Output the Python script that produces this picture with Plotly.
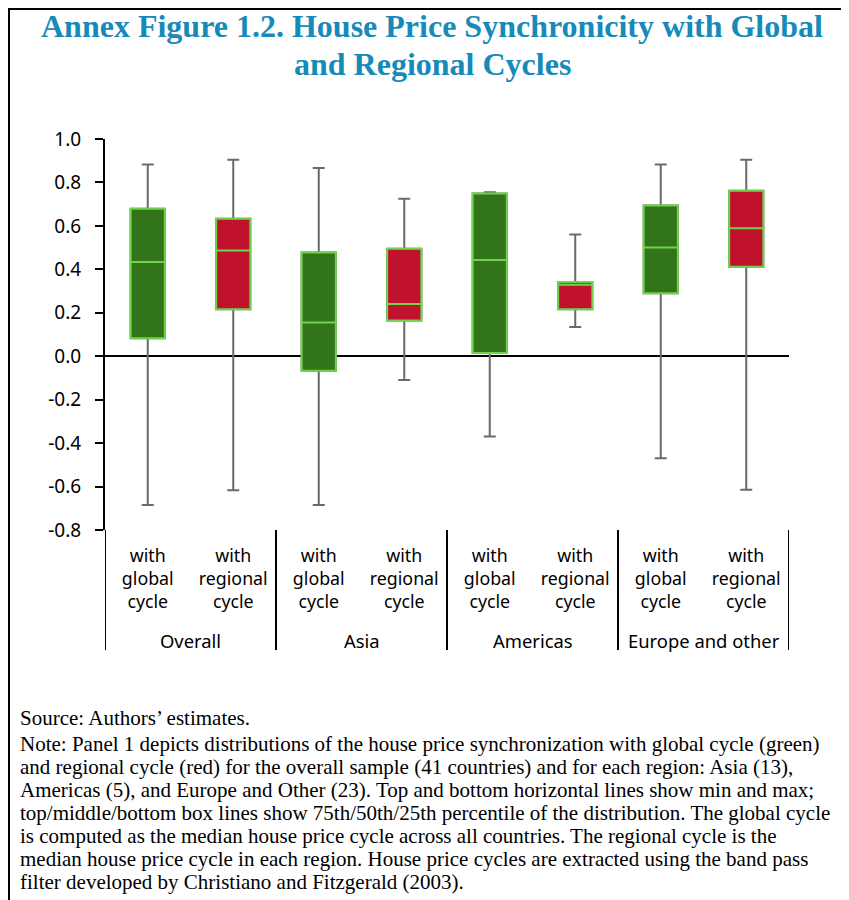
import plotly.graph_objects as go

# ---- data ----
groups = ["Overall", "Asia", "Americas", "Europe and other"]
sub_global = "with<br>global<br>cycle"
sub_regional = "with<br>regional<br>cycle"

global_min = [-0.685, -0.685, -0.37, -0.47]
global_q1 = [0.083, -0.067, 0.015, 0.290]
global_med = [0.434, 0.155, 0.443, 0.501]
global_q3 = [0.679, 0.477, 0.749, 0.694]
global_max = [0.883, 0.867, 0.755, 0.883]

regional_min = [-0.617, -0.11, 0.134, -0.615]
regional_q1 = [0.216, 0.165, 0.216, 0.412]
regional_med = [0.487, 0.240, 0.329, 0.589]
regional_q3 = [0.633, 0.495, 0.342, 0.762]
regional_max = [0.904, 0.725, 0.560, 0.904]

y_tickvals = [-0.8, -0.6, -0.4, -0.2, 0.0, 0.2, 0.4, 0.6, 0.8, 1.0]
y_ticktext = ["-0.8", "-0.6", "-0.4", "-0.2", "0.0", "0.2", "0.4", "0.6", "0.8", "1.0"]

title_lines = [
    "Annex Figure 1.2. House Price Synchronicity with Global",
    "and Regional Cycles",
]
note_lines = [
    "Source: Authors\u2019 estimates.",
    "Note: Panel 1 depicts distributions of the house price synchronization with global cycle (green)",
    "and regional cycle (red) for the overall sample (41 countries) and for each region: Asia (13),",
    "Americas (5), and Europe and Other (23). Top and bottom horizontal lines show min and max;",
    "top/middle/bottom box lines show 75th/50th/25th percentile of the distribution. The global cycle",
    "is computed as the median house price cycle across all countries. The regional cycle is the",
    "median house price cycle in each region. House price cycles are extracted using the band pass",
    "filter developed by Christiano and Fitzgerald (2003).",
]

GREEN = "#31741a"
RED = "#c0112d"
OUTLINE = "#6fd44c"
WHISKER = "#6a6a6a"
TITLE_BLUE = "#168ab8"

n = len(groups)
x_global = [2 * i for i in range(n)]
x_regional = [2 * i + 1 for i in range(n)]
tick_pos = sorted(x_global + x_regional)
tick_text = [sub_global if p % 2 == 0 else sub_regional for p in tick_pos]

fig = go.Figure()

def whisker_trace(x, lo, q1, med, q3, hi):
    return go.Box(
        x=x, lowerfence=lo, q1=q1, median=med, q3=q3, upperfence=hi,
        line=dict(color=WHISKER, width=2), fillcolor="rgba(0,0,0,0)",
        whiskerwidth=0.35, width=0.4, showlegend=False, hoverinfo="skip",
    )

def body_trace(x, q1, med, q3, fill):
    return go.Box(
        x=x, lowerfence=q1, q1=q1, median=med, q3=q3, upperfence=q3,
        line=dict(color=OUTLINE, width=2), fillcolor=fill,
        whiskerwidth=0, width=0.4, showlegend=False,
    )

fig.add_trace(whisker_trace(x_global, global_min, global_q1, global_med, global_q3, global_max))
fig.add_trace(whisker_trace(x_regional, regional_min, regional_q1, regional_med, regional_q3, regional_max))
fig.add_trace(body_trace(x_global, global_q1, global_med, global_q3, GREEN))
fig.add_trace(body_trace(x_regional, regional_q1, regional_med, regional_q3, RED))

OFF = 8  # page body margin of the html page
W, H = 849, 900
L, T = 105 - OFF, 139 - OFF
R = W - (789 - OFF)
B = H - (530 - OFF)
pw, ph = W - L - R, H - T - B

def px_x(p):
    return (p - OFF - L) / pw

def px_y(p):
    return (H - B - (p - OFF)) / ph

fig.update_layout(
    width=W, height=H,
    margin=dict(l=L, r=R, t=T, b=B, autoexpand=False),
    paper_bgcolor="white", plot_bgcolor="white",
    boxmode="overlay",
    font=dict(family="Noto Sans", size=17, color="black"),
    xaxis=dict(
        range=[-0.5, 2 * n - 0.5], tickvals=tick_pos, ticktext=tick_text,
        showline=False, showgrid=False, zeroline=False, ticks="",
        tickfont=dict(family="Noto Sans", size=17.8, color="black"),
        ticklabelstandoff=13,
    ),
    yaxis=dict(
        range=[-0.8, 1.0], tickvals=y_tickvals, ticktext=y_ticktext,
        showline=True, linecolor="black", linewidth=2,
        ticks="outside", ticklen=8, tickwidth=2, tickcolor="black",
        showgrid=False, zeroline=True, zerolinecolor="black", zerolinewidth=2,
        tickfont=dict(family="Noto Sans", size=19, color="black"),
        ticklabelstandoff=10,
    ),
)

# title lines
for line, yc in zip(title_lines, [26, 64]):
    fig.add_annotation(
        xref="paper", yref="paper", x=px_x(432), y=px_y(yc),
        xanchor="center", yanchor="middle", showarrow=False,
        text="<b>" + line + "</b>",
        font=dict(family="Liberation Serif", size=32, color=TITLE_BLUE),
    )

# group labels and dividers
for i, g in enumerate(groups):
    fig.add_annotation(
        xref="x", yref="paper", x=2 * i + 0.5, y=px_y(640),
        yanchor="middle", xanchor="center", showarrow=False, text=g,
        font=dict(family="Noto Sans", size=18.4, color="black"),
    )
for i in range(n + 1):
    fig.add_shape(type="line", xref="x", yref="paper",
                  x0=2 * i - 0.5, x1=2 * i - 0.5, y0=0, y1=px_y(650),
                  line=dict(color="black", width=2))

# footnote lines
note_y = [718, 744, 767, 790, 813, 836, 859, 882]
for line, yc in zip(note_lines, note_y):
    fig.add_annotation(
        xref="paper", yref="paper", x=px_x(18), y=px_y(yc),
        xanchor="left", yanchor="middle", align="left", showarrow=False,
        text=line,
        font=dict(family="Liberation Serif", size=21, color="black"),
    )

# frame lines (left and top)
fig.add_shape(type="line", xref="paper", yref="paper",
              x0=px_x(OFF + 0.5), x1=px_x(OFF + 0.5), y0=px_y(OFF), y1=px_y(910),
              line=dict(color="black", width=3))
fig.add_shape(type="line", xref="paper", yref="paper",
              x0=px_x(OFF), x1=px_x(860), y0=px_y(OFF + 0.5), y1=px_y(OFF + 0.5),
              line=dict(color="black", width=3))

fig.write_html("out.html")
